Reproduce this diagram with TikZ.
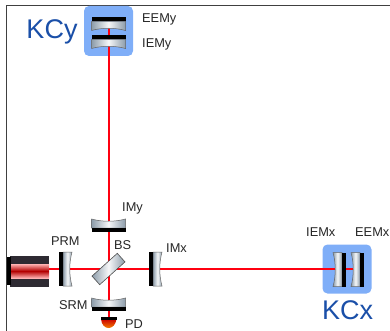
\documentclass[tikz,border=0pt]{standalone}
\usepackage{fontspec}
\setmainfont{Liberation Sans}
\usepackage{xcolor}
\usetikzlibrary{arrows.meta,positioning,calc}
\definecolor{kblue}{HTML}{7FAEF8}
\definecolor{ktext}{HTML}{1A4FA8}
\definecolor{beam}{HTML}{FF0010}
\definecolor{mgray}{HTML}{8C9CAA}
\definecolor{lasd}{HTML}{2E2A32}
\tikzset{
  % plain labels
  tag/.style  = {font=\fontsize{12.8}{14}\selectfont, text=black!85, inner sep=0pt},
  kc/.style   = {font=\fontsize{27}{28}\selectfont, text=ktext, inner sep=0pt},
  cav/.style  = {rectangle, rounded corners=5pt, fill=kblue, inner sep=0pt},
  lane/.style = {beam, line width=2pt},
  glass/.style = {left color=mgray, right color=mgray, middle color=white!92!mgray},
  edge/.style = {draw=black!60, line width=0.5pt},
}
% mirror along x; coat below its centre point, glass above
\newcommand{\mirror}[2]{%
  \begin{scope}[shift={(#1)},rotate=#2]
    \path[glass] (-17,0) -- (17,0) -- (17,-9) .. controls (6,-6) and (-6,-6) .. (-17,-9) -- cycle;
    \draw[edge] (-17,0) -- (17,0) -- (17,-9) .. controls (6,-6) and (-6,-6) .. (-17,-9) -- cycle;
    \fill[black] (-17,0) rectangle (17,4);
  \end{scope}}
\begin{document}
\begin{tikzpicture}[x=1pt,y=-1pt]
\useasboundingbox (0,0) rectangle (390,331);
% frame
\draw[black!75, line width=1pt] (6.5,331) -- (6.5,5.5) -- (390,5.5);
% cavity backgrounds
\node[cav, minimum width=49pt, minimum height=50pt] (KCyBox) at (108.5,31) {};
\node[cav, minimum width=49pt, minimum height=49pt] (KCxBox) at (347,269) {};
% beams
\coordinate (LaserEnd) at (48,269);
\coordinate (ArmY) at (108.5,24);
\coordinate (ArmX) at (356,269);
\coordinate (Det) at (108.5,318);
\coordinate (BSc) at (108.5,269);
\draw[lane] (LaserEnd) -- (ArmX);
\draw[lane] (ArmY) -- (Det);
% laser
\fill[lasd] (10,255.5) rectangle (49,286.5);
\fill[black] (7,257) rectangle (11,285);
\shade[top color=red!30!white, bottom color=red!30!white, middle color=red!70!black] (11,264) rectangle (49,278);
% mirrors
\mirror{108.5,228}{0}
\mirror{108.5,307}{0}
\mirror{108.5,21.5}{180}
\mirror{108.5,39.5}{180}
\mirror{63,269}{-90}
\mirror{153,269}{-90}
\mirror{342,269.5}{90}
\mirror{360,269.5}{90}
% beam splitter
\node[draw=black!70, line width=0.6pt, left color=mgray, right color=mgray, middle color=white!92!mgray, rotate=42, minimum width=34pt, minimum height=11.5pt, inner sep=0pt] (BS) at (BSc) {};
% photodiode
\shade[top color=red!80!black, bottom color=orange!70!yellow] (101,319) .. controls (102,331) and (115,331) .. (116.5,319) -- cycle;
\fill[black] (100.5,317) rectangle (117,320);
% labels
\node[kc] (KCyL) at (52,32) {KCy};
\node[kc] (KCxL) at (347.5,310) {KCx};
\node[tag, anchor=west] (EEMy) at (142,19) {EEMy};
\node[tag, anchor=west] (IEMy) at (142,44) {IEMy};
\node[tag, anchor=west] (IMy) at (122,208) {IMy};
\node[tag, anchor=west] (IMx) at (166,248) {IMx};
\node[tag, anchor=west] (PRM) at (51,241) {PRM};
\node[tag, anchor=west] (BSL) at (114,245) {BS};
\node[tag, anchor=west] (SRM) at (59,305) {SRM};
\node[tag, anchor=west] (PD) at (125,324.5) {PD};
\node[tag, anchor=west] (IEMx) at (306,232) {IEMx};
\node[tag, anchor=west] (EEMx) at (355,232) {EEMx};
\end{tikzpicture}
\end{document}
